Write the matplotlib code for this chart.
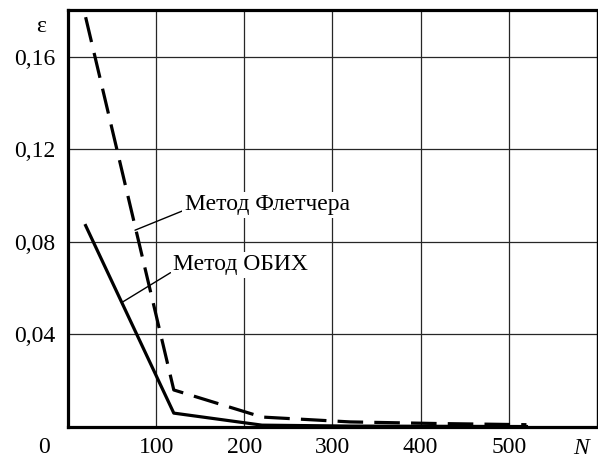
import matplotlib
matplotlib.use('Agg')
import matplotlib.pyplot as plt
from matplotlib.ticker import FuncFormatter

plt.rcParams['font.family'] = ['Liberation Serif', 'DejaVu Serif']

# data
fletcher_n = [20, 120, 220, 320, 420, 520]
fletcher_eps = [0.177, 0.016, 0.0043, 0.0022, 0.0015, 0.001]

obih_n = [20, 120, 220, 320, 420, 520]
obih_eps = [0.087, 0.006, 0.0008, 0.0004, 0.0003, 0.0002]

x_ticks = [100, 200, 300, 400, 500]
y_ticks = [0.04, 0.08, 0.12, 0.16]

fs = 17

fig = plt.figure(figsize=(5.98, 4.59), dpi=100)
ax = fig.add_axes([0.1137, 0.0697, 0.8846, 0.908])

ax.plot(fletcher_n, fletcher_eps, color='black', lw=2.3,
        linestyle=(0, (8, 3.5)), solid_capstyle='butt', dash_capstyle='butt', zorder=3)
ax.plot(obih_n, obih_eps, color='black', lw=2.3, zorder=3)

ax.set_xlim(0, 600)
ax.set_ylim(0, 0.18)
ax.set_xticks(x_ticks)
ax.set_yticks(y_ticks)
ax.yaxis.set_major_formatter(FuncFormatter(lambda v, p: f'{v:.2f}'.replace('.', ',')))
ax.tick_params(length=0, labelsize=fs)
ax.tick_params(axis='x', pad=7)
ax.tick_params(axis='y', pad=9)
ax.grid(True, color='0.15', lw=0.9)
ax.set_axisbelow(True)

for side in ['left', 'bottom', 'top']:
    ax.spines[side].set_linewidth(2.3)
ax.spines['right'].set_linewidth(1.0)

# axis captions
ax.text(-0.045, -0.05, '0', transform=ax.transAxes, ha='center', va='center', fontsize=fs)
ax.text(-0.051, 0.962, 'ε', transform=ax.transAxes, ha='center', va='center', fontsize=fs)
ax.text(0.970, -0.052, 'N', transform=ax.transAxes, ha='center', va='center',
        fontsize=fs, style='italic')

box = dict(boxstyle='square,pad=0.1', fc='white', ec='none')
ax.annotate('Метод Флетчера', xy=(76, 0.085), xytext=(132.5, 0.096),
            ha='left', va='center', fontsize=fs, bbox=box, zorder=4,
            arrowprops=dict(arrowstyle='-', lw=1, color='black', relpos=(0, 0.25),
                            shrinkA=0, shrinkB=0))
ax.annotate('Метод ОБИХ', xy=(62, 0.054), xytext=(119, 0.070),
            ha='left', va='center', fontsize=fs, bbox=box, zorder=4,
            arrowprops=dict(arrowstyle='-', lw=1, color='black', relpos=(0, 0.2),
                            shrinkA=0, shrinkB=0))

fig.savefig('out.png', dpi=100)
